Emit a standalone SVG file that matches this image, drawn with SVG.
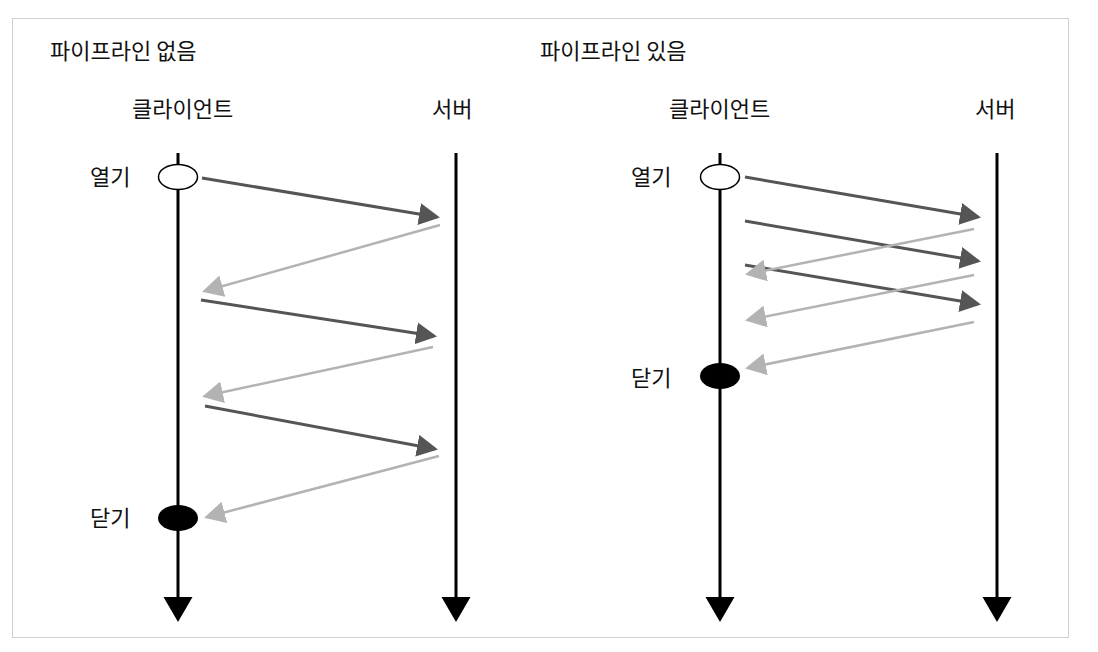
<svg xmlns="http://www.w3.org/2000/svg" width="1098" height="652" viewBox="0 0 1098 652">
<style>
text{font-family:"Noto Sans CJK KR","Noto Sans",sans-serif;font-size:22px;fill:#111}
.life{stroke:#000;stroke-width:3;fill:none}
.req{stroke:#555;stroke-width:3;fill:none;marker-end:url(#ad)}
.res{stroke:#b3b3b3;stroke-width:2.5;fill:none;marker-end:url(#al)}
</style>
<defs>
<marker id="ad" markerUnits="userSpaceOnUse" markerWidth="22" markerHeight="22" viewBox="0 0 22 22" refX="18" refY="11" orient="auto"><path d="M0,0 L21,11 L0,22 z" fill="#555"/></marker>
<marker id="al" markerUnits="userSpaceOnUse" markerWidth="22" markerHeight="22" viewBox="0 0 22 22" refX="18" refY="11" orient="auto"><path d="M0,0 L21,11 L0,22 z" fill="#b3b3b3"/></marker>
</defs>
<rect x="0" y="0" width="1098" height="652" fill="#fff"/>
<rect id="frame" x="12.5" y="18.5" width="1056" height="619" fill="none" stroke="#cfcfcf" stroke-width="1"/>

<g id="left-panel">
<text id="title-left" x="50" y="59">파이프라인 없음</text>
<g id="client-left"><text x="132" y="117">클라이언트</text>
<line class="life" x1="178" y1="153" x2="178" y2="600"/>
<polygon points="163.5,597 192.5,597 178,622" fill="#000"/></g>
<g id="server-left"><text x="432" y="117">서버</text>
<line class="life" x1="456" y1="153" x2="456" y2="600"/>
<polygon points="441.5,597 470.5,597 456,622" fill="#000"/></g>
<g id="open-left"><text x="90" y="185">열기</text>
<ellipse cx="178" cy="177" rx="19.5" ry="12.5" fill="#fff" stroke="#000" stroke-width="1.5"/></g>
<g id="close-left"><text x="90" y="526">닫기</text>
<ellipse cx="178" cy="518" rx="20" ry="13" fill="#000"/></g>
</g>

<g id="right-panel">
<text id="title-right" x="540" y="59">파이프라인 있음</text>
<g id="client-right"><text x="669" y="117">클라이언트</text>
<line class="life" x1="720" y1="153" x2="720" y2="600"/>
<polygon points="705.5,597 734.5,597 720,622" fill="#000"/></g>
<g id="server-right"><text x="975" y="117">서버</text>
<line class="life" x1="997" y1="153" x2="997" y2="600"/>
<polygon points="982.5,597 1011.5,597 997,622" fill="#000"/></g>
<g id="open-right"><text x="631" y="185">열기</text>
<ellipse cx="720" cy="177" rx="19.5" ry="12.5" fill="#fff" stroke="#000" stroke-width="1.5"/></g>
<g id="close-right"><text x="631" y="386">닫기</text>
<ellipse cx="720" cy="376" rx="20" ry="13" fill="#000"/></g>
</g>

<g id="connectors">
<line class="req" x1="202" y1="178" x2="437" y2="217"/>
<line class="res" x1="440" y1="225" x2="205" y2="291"/>
<line class="req" x1="201" y1="300" x2="434" y2="336"/>
<line class="res" x1="433" y1="347" x2="205" y2="396"/>
<line class="req" x1="205" y1="406" x2="435" y2="449"/>
<line class="res" x1="439" y1="456" x2="207" y2="517"/>

<line class="req" x1="745" y1="177" x2="978" y2="217"/>
<line class="req" x1="745" y1="221" x2="978" y2="261"/>
<line class="req" x1="745" y1="265" x2="978" y2="304"/>
<line class="res" x1="974" y1="229" x2="748" y2="274"/>
<line class="res" x1="974" y1="275" x2="748" y2="320"/>
<line class="res" x1="974" y1="322" x2="748" y2="368"/>
</g>
</svg>
